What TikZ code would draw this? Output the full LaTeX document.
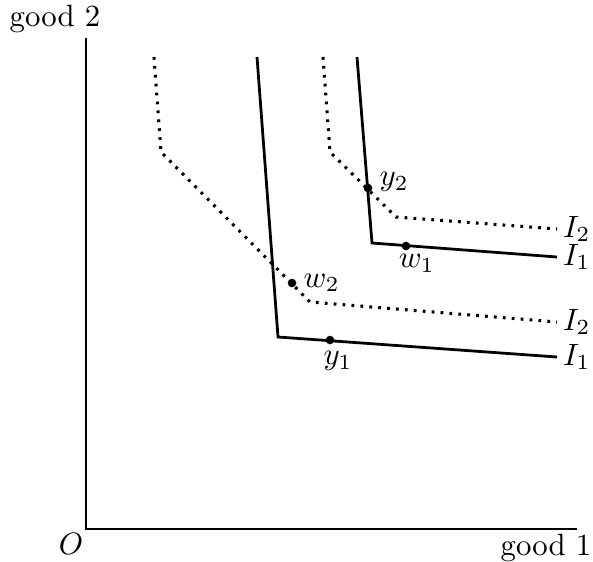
\documentclass[tikz,border=0pt]{standalone}
\usetikzlibrary{positioning}
\tikzset{
  every path/.style={
    black,
    line width=0.9pt
  },
  dotline/.style={
    dotted,
    line width=1pt
  },
  pt/.style={
    circle,
    fill,
    inner sep=0pt,
    minimum size=2.8pt
  },
  lab/.style={
    inner sep=1.5pt
  }
}
\begin{document}
\begin{tikzpicture}[x=0.3247pt,y=-0.3247pt]
    \useasboundingbox (0,0) rectangle (593,561);

    % 座標軸
    \coordinate (O) at (86,529);
    \coordinate (xend) at (577,529);
    \coordinate (yend) at (86,38);
    \draw (yend) -- (O) -- (xend);
    \node[lab] (olab) at (71,544) {$O$};
    \node[lab] (good1) at (546,548) {good 1};
    \node[lab] (good2) at (55,19) {good 2};

    % 下の無差別曲線 (実線)
    \coordinate (a1) at (257,57);
    \coordinate (a2) at (278,337);
    \coordinate (a3) at (557,357);
    \draw (a1) -- (a2) -- (a3) node[lab,right] (i1low) {$I_1$};

    % 下の無差別曲線 (点線)
    \coordinate (b1) at (154,57);
    \coordinate (b2) at (161,152);
    \coordinate (b3) at (310,302);
    \coordinate (b4) at (557,322);
    \draw[dotline] (b1) -- (b2) -- (b3) -- (b4) node[lab,right] (i2low) {$I_2$};

    % 上の無差別曲線 (実線)
    \coordinate (c1) at (357,57);
    \coordinate (c2) at (372,243);
    \coordinate (c3) at (557,257);
    \draw (c1) -- (c2) -- (c3) node[lab,right] (i1up) {$I_1$};

    % 上の無差別曲線 (点線)
    \coordinate (d1) at (323,57);
    \coordinate (d2) at (330,152);
    \coordinate (d3) at (396,217);
    \coordinate (d4) at (557,229);
    \draw[dotline] (d1) -- (d2) -- (d3) -- (d4) node[lab,right] (i2up) {$I_2$};

    % 点
    \node[pt] (y1) at (330,340) {};
    \node[pt] (y2) at (368,188) {};
    \node[pt] (w1) at (406,246) {};
    \node[pt] (w2) at (292,283) {};

    % ラベル
    \node[lab,below=0pt of y1,xshift=2.6pt] (y1lab) {$y_1$};
    \node[lab,right=0pt of y2,yshift=2pt] (y2lab) {$y_2$};
    \node[lab,below=-1pt of w1,xshift=3.5pt] (w1lab) {$w_1$};
    \node[lab,right=0pt of w2] (w2lab) {$w_2$};
\end{tikzpicture}
\end{document}
